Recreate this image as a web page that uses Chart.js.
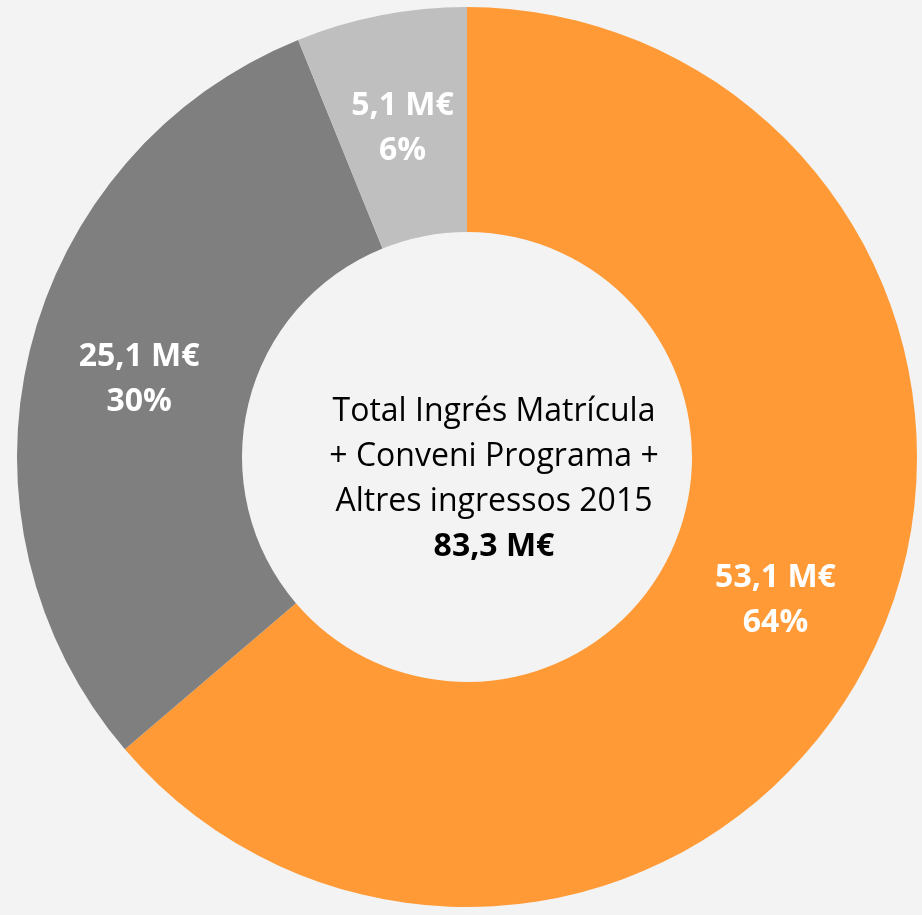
<!DOCTYPE html>
<html>
<head>
<meta charset="utf-8">
<script src="https://cdn.jsdelivr.net/npm/chart.js@4/dist/chart.umd.min.js"></script>
<style>
  html, body { margin: 0; padding: 0; background: #F3F3F3; }
  #wrap { width: 922px; height: 915px; position: relative; }
</style>
</head>
<body>
<div id="wrap"><canvas id="c" width="922" height="915"></canvas></div>
<script>
const categories = ["Ingrés Matrícula", "Conveni Programa", "Altres ingressos"];
const valuesMEur = [53.1, 25.1, 5.1];
const percentLabels = ["64%", "30%", "6%"];
const amountLabels = ["53,1 M€", "25,1 M€", "5,1 M€"];
const centerLines = ["Total Ingrés Matrícula", "+ Conveni Programa +", "Altres ingressos 2015"];
const centerTotal = "83,3 M€";
const colors = ["#FF9A36", "#7F7F7F", "#BFBFBF"];

const FONT = "'Open Sans', 'DejaVu Sans', sans-serif";
const labelNudgeX = [2, 0, 0];

const labelPlugin = {
  id: 'sliceLabels',
  afterDatasetsDraw(chart) {
    const ctx = chart.ctx;
    const meta = chart.getDatasetMeta(0);
    ctx.save();
    ctx.fillStyle = '#FFFFFF';
    ctx.textAlign = 'center';
    ctx.textBaseline = 'middle';
    ctx.font = "bold 32px " + FONT;
    meta.data.forEach((arc, i) => {
      const p = arc.tooltipPosition();
      const x = p.x + labelNudgeX[i];
      ctx.fillText(amountLabels[i], x, p.y - 20);
      ctx.fillText(percentLabels[i], x, p.y + 25);
    });
    // center text (offset to the right as in the original text box)
    const a = chart.chartArea;
    const cx = (a.left + a.right) / 2 + 27;
    const cy = (a.top + a.bottom) / 2;
    ctx.fillStyle = '#000000';
    ctx.font = "32px " + FONT;
    const lh = 45;
    centerLines.forEach((t, i) => {
      ctx.fillText(t, cx, cy - 45 + i * lh);
    });
    ctx.font = "bold 32px " + FONT;
    ctx.fillText(centerTotal, cx, cy - 45 + 3 * lh);
    ctx.restore();
  }
};

new Chart(document.getElementById('c'), {
  type: 'doughnut',
  data: {
    labels: categories,
    datasets: [{
      data: valuesMEur,
      backgroundColor: colors,
      borderWidth: 0,
      hoverOffset: 0
    }]
  },
  options: {
    responsive: false,
    animation: false,
    cutout: '50%',
    layout: { padding: { left: 17, right: 5, top: 7, bottom: 8 } },
    plugins: {
      legend: { display: false },
      tooltip: { enabled: false }
    },
    events: []
  },
  plugins: [labelPlugin]
});
</script>
</body>
</html>
